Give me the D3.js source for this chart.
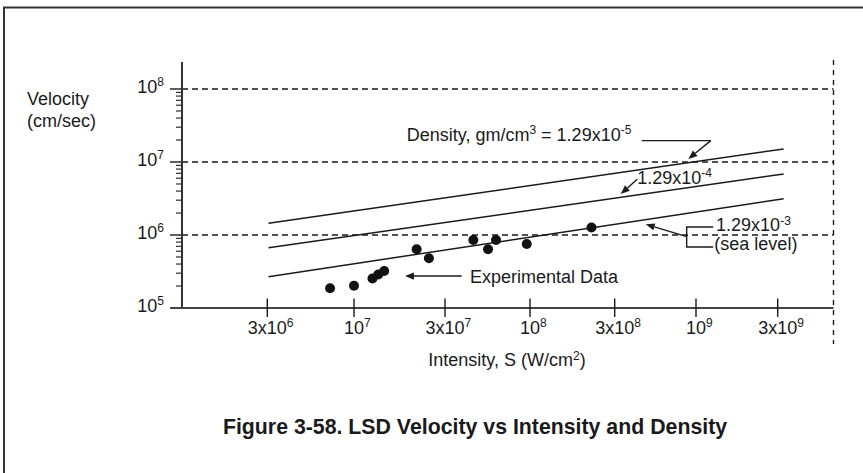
<!DOCTYPE html>
<html>
<head>
<meta charset="utf-8">
<script src="https://cdn.jsdelivr.net/npm/d3@7"></script>
<style>
  html, body { margin: 0; padding: 0; background: #fff; }
  svg { display: block; }
  text { font-family: "Liberation Sans", Arial, Helvetica, sans-serif; fill: #1a1a1a; }
</style>
</head>
<body>
<svg id="chart" width="863" height="473"></svg>
<script>
// ---------------- data ----------------
const xTickValues = [3e6, 1e7, 3e7, 1e8, 3e8, 1e9, 3e9];
const xTickBase   = ["3x10", "10", "3x10", "10", "3x10", "10", "3x10"];
const xTickExp    = ["6", "7", "7", "8", "8", "9", "9"];

const yTickValues = [1e5, 1e6, 1e7, 1e8];
const yTickBase   = ["10", "10", "10", "10"];
const yTickExp    = ["5", "6", "7", "8"];

// theoretical curves (two end points each): intensity S (W/cm2) -> velocity (cm/sec)
const curveIntensity = [3.05e6, 3.25e9];
const velDensity1_29e5 = [1.45e6, 1.51e7];
const velDensity1_29e4 = [6.7e5, 6.85e6];
const velDensity1_29e3 = [2.68e5, 3.14e6];

// experimental data
const expIntensity = [7.17e6, 1.0e7, 1.25e7, 1.34e7, 1.44e7, 2.13e7, 2.47e7, 4.48e7, 5.52e7, 6.18e7, 9.55e7, 2.22e8];
const expVelocity  = [1.86e5, 2.02e5, 2.54e5, 2.88e5, 3.21e5, 6.37e5, 4.80e5, 8.54e5, 6.37e5, 8.54e5, 7.53e5, 1.27e6];

// ---------------- layout ----------------
const svg = d3.select("#chart");
svg.append("rect").attr("width", 863).attr("height", 473).attr("fill", "#fff");

// page border (top and left only)
svg.append("path").attr("d", "M4,473 V7.5 H863")
  .attr("fill", "none").attr("stroke", "#333").attr("stroke-width", 2);

const axisX = 182, axisY = 308, axisTop = 62, plotRight = 833.5;
const FS = 18, SUP = 12;
// the drawn tick marks are (nearly) evenly spaced, so use a piecewise log scale
const xRange = [267.3, 354, 445, 530, 614.7, 696, 777.7];
const x = d3.scaleLog().domain(xTickValues).range(xRange);
const y = d3.scaleLog().domain([1e5, 1e8]).range([axisY, 89]);

const ink = "#1a1a1a";

// dashed horizontal grid lines at decades (above the axis)
svg.append("g").selectAll("line").data(yTickValues.slice(1)).join("line")
  .attr("x1", axisX).attr("x2", plotRight)
  .attr("y1", d => y(d)).attr("y2", d => y(d))
  .attr("stroke", ink).attr("stroke-width", 1.4).attr("stroke-dasharray", "6,4");

// right dashed vertical border
svg.append("line").attr("x1", plotRight).attr("x2", plotRight)
  .attr("y1", 60).attr("y2", 344)
  .attr("stroke", ink).attr("stroke-width", 1.4).attr("stroke-dasharray", "5,5");

// y axis minor ticks
const minor = [];
for (let e = 5; e < 8; e++) for (let m = 2; m <= 9; m++) minor.push(m * Math.pow(10, e));
svg.append("g").selectAll("line").data(minor).join("line")
  .attr("x1", axisX - 6).attr("x2", axisX)
  .attr("y1", d => y(d)).attr("y2", d => y(d))
  .attr("stroke", ink).attr("stroke-width", 1.1);
// y axis major ticks
svg.append("g").selectAll("line").data(yTickValues).join("line")
  .attr("x1", axisX - 12).attr("x2", axisX)
  .attr("y1", d => y(d)).attr("y2", d => y(d))
  .attr("stroke", ink).attr("stroke-width", 1.4);

// axes lines
svg.append("line").attr("x1", axisX).attr("x2", axisX).attr("y1", axisTop).attr("y2", axisY + 1)
  .attr("stroke", "#333").attr("stroke-width", 2);
svg.append("line").attr("x1", axisX - 11).attr("x2", plotRight).attr("y1", axisY).attr("y2", axisY)
  .attr("stroke", "#444").attr("stroke-width", 2);

// x ticks
svg.append("g").selectAll("line").data(xTickValues).join("line")
  .attr("x1", d => x(d)).attr("x2", d => x(d))
  .attr("y1", axisY - 9.5).attr("y2", axisY + 9)
  .attr("stroke", ink).attr("stroke-width", 1.4);

// helper for text with superscript
function supLabel(parent, xx, yy, base, sup, anchor) {
  const t = parent.append("text").attr("x", xx).attr("y", yy)
    .attr("font-size", FS).attr("text-anchor", anchor === "centerBase" ? "start" : anchor);
  const b = t.append("tspan").text(base);
  t.append("tspan").attr("font-size", SUP).attr("dy", -6.5).text(sup);
  if (anchor === "centerBase") {
    const w = b.node().getComputedTextLength();
    t.attr("x", xx - w / 2);
  }
  return t;
}

// x tick labels
xTickValues.forEach((v, i) => supLabel(svg, x(v), 333.5, xTickBase[i], xTickExp[i], "centerBase"));
// y tick labels
yTickValues.forEach((v, i) => supLabel(svg, 164, y(v) + 3.5, yTickBase[i], yTickExp[i], "end"));

// axis titles
svg.append("text").attr("x", 27).attr("y", 105).attr("font-size", FS).text("Velocity");
svg.append("text").attr("x", 27).attr("y", 126.5).attr("font-size", FS).text("(cm/sec)");
const xt = svg.append("text").attr("x", 507).attr("y", 366).attr("font-size", FS).attr("text-anchor", "middle");
xt.append("tspan").text("Intensity, S (W/cm");
xt.append("tspan").attr("font-size", SUP).attr("dy", -6.5).text("2");
xt.append("tspan").attr("dy", 6.5).text(")");

// theoretical lines
const line = d3.line().x(d => x(d[0])).y(d => y(d[1]));
[velDensity1_29e5, velDensity1_29e4, velDensity1_29e3].forEach(vals => {
  svg.append("path").datum(curveIntensity.map((s, i) => [s, vals[i]]))
    .attr("d", line).attr("fill", "none").attr("stroke", ink).attr("stroke-width", 1.5);
});

// experimental points
svg.append("g").selectAll("circle").data(expIntensity.map((s, i) => [s, expVelocity[i]])).join("circle")
  .attr("cx", d => x(d[0])).attr("cy", d => y(d[1])).attr("r", 5).attr("fill", "#111");

// ---------------- annotations (anchored in data units) ----------------
function arrow(p0, p1) {
  const x0 = x(p0[0]), y0 = y(p0[1]), x1 = x(p1[0]), y1 = y(p1[1]);
  const ang = Math.atan2(y1 - y0, x1 - x0), L = 9, W = 3.6;
  const bx = x1 - L * Math.cos(ang), by = y1 - L * Math.sin(ang);
  svg.append("line").attr("x1", x0).attr("y1", y0).attr("x2", bx).attr("y2", by)
    .attr("stroke", ink).attr("stroke-width", 1.4);
  svg.append("path").attr("d",
    `M${x1},${y1} L${bx + W * Math.sin(ang)},${by - W * Math.cos(ang)} L${bx - W * Math.sin(ang)},${by + W * Math.cos(ang)} Z`)
    .attr("fill", ink);
}
function polyline(pts) {
  svg.append("path").attr("d", d3.line().x(d => x(d[0])).y(d => y(d[1]))(pts))
    .attr("fill", "none").attr("stroke", ink).attr("stroke-width", 1.4);
}

// Density label
const dt = svg.append("text").attr("x", x(1.89e7)).attr("y", y(1.96e7)).attr("font-size", FS);
dt.append("tspan").text("Density, gm/cm");
dt.append("tspan").attr("font-size", SUP).attr("dy", -6.5).text("3");
dt.append("tspan").attr("dy", 6.5).text(" = 1.29x10");
dt.append("tspan").attr("font-size", SUP).attr("dy", -6.5).text("-5");
polyline([[4.48e8, 1.96e7], [1.22e9, 1.96e7]]);
arrow([1.22e9, 1.96e7], [8.92e8, 1.10e7]);

// 1.29x10^-4
supLabel(svg, x(4.19e8), y(5.0e6), "1.29x10", "-4", "start");
arrow([4.19e8, 5.79e6], [3.28e8, 3.64e6]);

// 1.29x10^-3 (sea level)
supLabel(svg, x(1.31e9), y(1.134e6), "1.29x10", "-3", "start");
svg.append("text").attr("x", x(1.28e9)).attr("y", y(6.23e5)).attr("font-size", FS).text("(sea level)");
polyline([[1.26e9, 1.287e6], [8.71e8, 1.287e6], [8.71e8, 6.85e5], [1.26e9, 6.85e5]]);
arrow([8.71e8, 9.48e5], [4.75e8, 1.402e6]);

// Experimental Data
arrow([3.80e7, 2.74e5], [1.85e7, 2.74e5]);
svg.append("text").attr("x", x(4.27e7)).attr("y", y(2.22e5)).attr("font-size", FS).text("Experimental Data");

// figure caption
svg.append("text").attr("x", 475).attr("y", 434).attr("font-size", 21.3).attr("font-weight", "bold")
  .attr("text-anchor", "middle").text("Figure 3-58. LSD Velocity vs Intensity and Density");
</script>
</body>
</html>
